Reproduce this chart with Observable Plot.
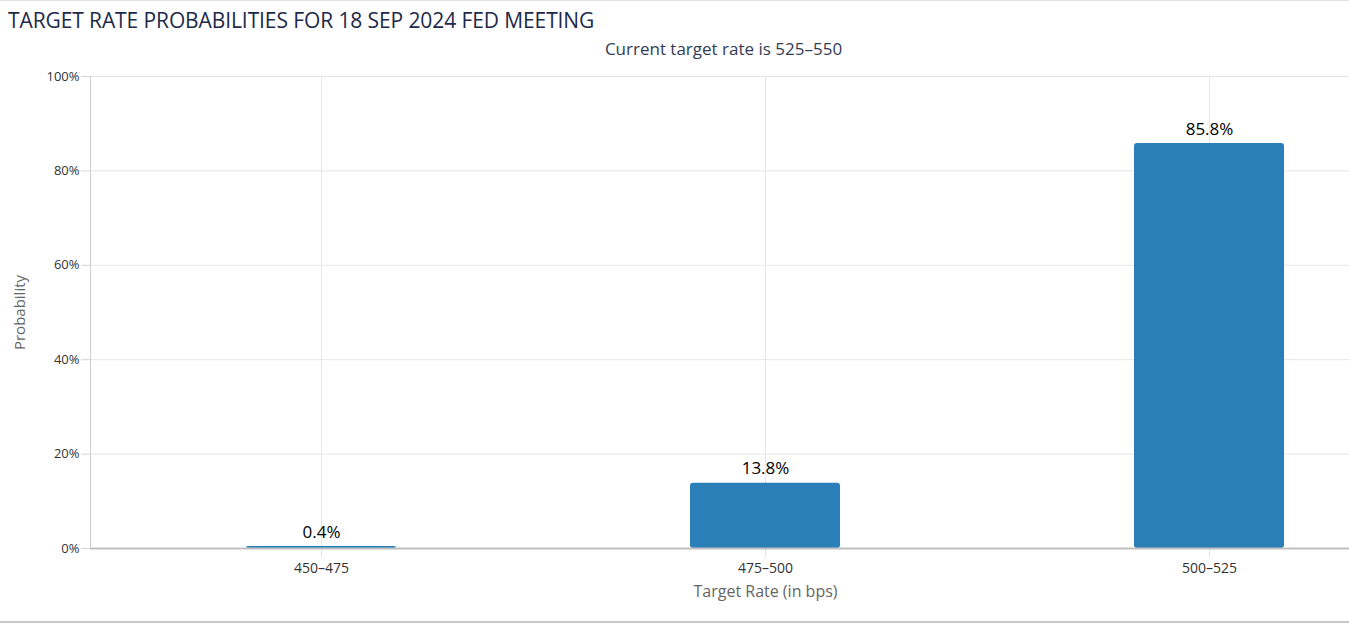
<!DOCTYPE html>
<html>
<head>
<meta charset="utf-8">
<script src="https://cdn.jsdelivr.net/npm/d3@7"></script>
<script src="https://cdn.jsdelivr.net/npm/@observablehq/plot@0.6"></script>
<style>
  html, body { margin: 0; padding: 0; background: #fff; }
  #wrap { width: 1349px; height: 624px; box-sizing: border-box; border-top: 1px solid #e3e3e3; position: relative; font-family: "Open Sans", sans-serif; }
  #head { position: relative; height: 61px; }
  #title { position: absolute; left: 8px; top: 5px; font-size: 21px; color: #1d2a4a; white-space: nowrap; letter-spacing: -0.1px; }
  #subtitle { position: absolute; left: 0; width: 1349px; top: 36px; text-align: center; font-size: 17px; color: #333c55; padding-left: 98px; box-sizing: border-box; }
  #chart svg { display: block; }
  #bottom { position: absolute; left: 0; top: 620px; width: 1349px; height: 0; border-top: 2px solid #c8c8c8; }
</style>
</head>
<body>
<div id="wrap">
  <div id="head">
    <div id="title">TARGET RATE PROBABILITIES FOR 18 SEP 2024 FED MEETING</div>
    <div id="subtitle">Current target rate is 525–550</div>
  </div>
  <div id="chart"></div>
  <div id="bottom"></div>
</div>
<script>
const categories = ["450–475", "475–500", "500–525"];
const probabilities = [0.4, 13.8, 85.8];
const yTicks = [0, 20, 40, 60, 80, 100];
const xLabel = "Target Rate (in bps)";
const yLabel = "Probability";

const data = categories.map((c, i) => ({cat: c, p: probabilities[i]}));

const chart = Plot.plot({
  width: 1349,
  height: 558,
  marginTop: 14,
  marginBottom: 72,
  marginLeft: 90,
  marginRight: 0,
  style: {fontFamily: "Open Sans, sans-serif", background: "#fff", overflow: "hidden"},
  x: {type: "band", domain: categories, range: [98, 1431], paddingInner: 0.6625, paddingOuter: 0.33125, align: 0.5},
  y: {domain: [0, 100]},
  marks: [
    Plot.gridY(yTicks, {stroke: "#e6e6e6", strokeOpacity: 1}),
    Plot.ruleX(categories, {x: d => d, y1: 0, y2: 100, stroke: "#e6e6e6"}),
    Plot.axisY(yTicks, {
      tickSize: 9, tickPadding: 2, stroke: "#d4d4d4", fill: "#333", fontSize: 13,
      tickFormat: d => d + "%", label: null
    }),
    Plot.axisX(categories, {
      tickSize: 10, tickPadding: 5, stroke: "#e6e6e6", fill: "#333", fontSize: 14, label: null
    }),
    Plot.text([xLabel], {x: () => categories[1], frameAnchor: "bottom", dy: 43, fontSize: 16, fill: "#666", lineAnchor: "middle"}),
    Plot.text([yLabel], {frameAnchor: "left", dx: -70, rotate: -90, fontSize: 15, fill: "#666", textAnchor: "middle", lineAnchor: "middle"}),
    Plot.frame({anchor: "left", stroke: "#cccccc"}),
    Plot.barY(data, {x: "cat", y: "p", fill: "#2a7fb8", rx: 3}),
    Plot.ruleY([0], {stroke: "#c0c0c0", strokeWidth: 2}),
    Plot.text(data, {x: "cat", y: "p", text: d => d.p.toFixed(1) + "%", dy: -9, lineAnchor: "bottom", fontSize: 17, fill: "#000"})
  ]
});
document.getElementById("chart").appendChild(chart);
</script>
</body>
</html>
